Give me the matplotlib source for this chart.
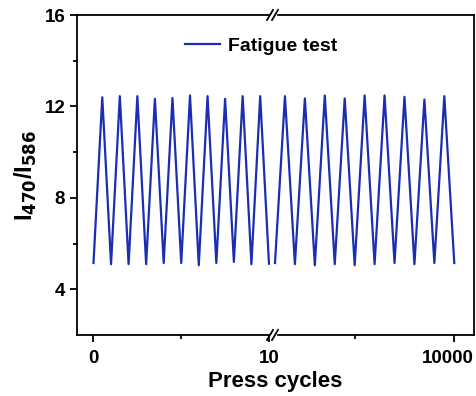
import matplotlib
matplotlib.use("Agg")
import matplotlib.pyplot as plt
from matplotlib.lines import Line2D
from matplotlib.patches import Rectangle
from matplotlib.ticker import FixedLocator

plt.rcParams['font.family'] = ['Liberation Sans', 'DejaVu Sans']
plt.rcParams['font.weight'] = 'bold'

# ---- data ----
cycles_left = [0, 0.5, 1, 1.5, 2, 2.5, 3, 3.5, 4, 4.5, 5, 5.5, 6, 6.5, 7, 7.5, 8, 8.5, 9, 9.5, 10]
ratio_left = [5.15, 12.40, 5.10, 12.45, 5.10, 12.45, 5.10, 12.33, 5.15, 12.37, 5.15,
              12.48, 5.05, 12.45, 5.15, 12.33, 5.20, 12.45, 5.10, 12.45, 5.12]
cycles_right = [1000, 1500, 2000, 2500, 3000, 3500, 4000, 4500, 5000, 5500, 6000,
                6500, 7000, 7500, 8000, 8500, 9000, 9500, 10000]
ratio_right = [5.15, 12.45, 5.10, 12.35, 5.05, 12.48, 5.10, 12.35, 5.05, 12.48, 5.10,
               12.48, 5.15, 12.42, 5.10, 12.30, 5.15, 12.45, 5.15]
left_ticks = [0, 10]
left_ticklabels = ['0', '10']
right_ticks = [10000]
right_ticklabels = ['10000']
y_ticks = [4, 8, 12, 16]
series_name = 'Fatigue test'

color = '#1a2db3'
W, H = 477, 396
fig = plt.figure(figsize=(W / 100, H / 100), dpi=100)

x0, x_break, x1 = 77, 273, 474
y_top, y_bot = 15, 335
axL = fig.add_axes([x0 / W, 1 - y_bot / H, (x_break - x0) / W, (y_bot - y_top) / H])
axR = fig.add_axes([x_break / W, 1 - y_bot / H, (x1 - x_break) / W, (y_bot - y_top) / H])
axR.patch.set_alpha(0)

lineL, = axL.plot(cycles_left, ratio_left, color=color, lw=1.6)
axR.plot(cycles_right, ratio_right, color=color, lw=1.6)

axL.set_xlim(-0.94, 10.23)
axR.set_xlim(900, 10990)
for ax in (axL, axR):
    ax.set_ylim(2, 16)
    for s in ax.spines.values():
        s.set_linewidth(1.3)
    ax.tick_params(axis='both', which='major', direction='out', length=5, width=1.3,
                   labelsize=13.5)
    ax.tick_params(axis='both', which='minor', direction='out', length=3, width=1.3)

axL.spines['right'].set_visible(False)
axR.spines['left'].set_visible(False)

axL.set_xticks(left_ticks)
axL.set_xticklabels(left_ticklabels, fontweight='bold')
axL.xaxis.set_minor_locator(FixedLocator([5]))
axR.set_xticks(right_ticks)
axR.set_xticklabels([])
axR.xaxis.set_minor_locator(FixedLocator([5000]))
for xv, lab in zip(right_ticks, right_ticklabels):
    axR.annotate(lab, xy=(xv, 0), xycoords=axR.get_xaxis_transform(),
                 xytext=(-4.5, -11), textcoords='offset points',
                 ha='center', va='top', fontsize=13.5, fontweight='bold')

axL.set_yticks(y_ticks)
axL.set_yticklabels([str(v) for v in y_ticks], fontweight='bold')
axL.yaxis.set_minor_locator(FixedLocator([6, 10, 14]))
axR.tick_params(axis='y', which='both', left=False, right=False, labelleft=False)
axL.tick_params(axis='x', pad=6)
axR.tick_params(axis='x', pad=6)

axL.set_ylabel('I$_{\\mathbf{470}}$/I$_{\\mathbf{586}}$', fontsize=17, fontweight='bold', labelpad=4)
fig.text((x0 + x1) / 2 / W, 1 - 381 / H, 'Press cycles', ha='center', va='center',
         fontsize=16, fontweight='bold')

leg = fig.legend([lineL], [series_name], loc='center left',
                 bbox_to_anchor=(185 / W, 1 - 46 / H),
                 frameon=False, fontsize=14, handlelength=1.8, handletextpad=0.4,
                 borderaxespad=0, borderpad=0)
for t in leg.get_texts():
    t.set_fontweight('bold')

# axis break marks
for yb in (y_top, y_bot):
    fy = 1 - yb / H
    fig.add_artist(Rectangle(((x_break - 3) / W, fy - 4 / H), 6 / W, 8 / H,
                             transform=fig.transFigure, color='white', zorder=10))
    for dx in (-3, 2):
        fig.add_artist(Line2D([(x_break + dx - 3) / W, (x_break + dx + 3) / W],
                              [fy - 5 / H, fy + 5 / H], transform=fig.transFigure,
                              color='black', lw=1.3, zorder=11))

fig.savefig('out.png', dpi=100)
